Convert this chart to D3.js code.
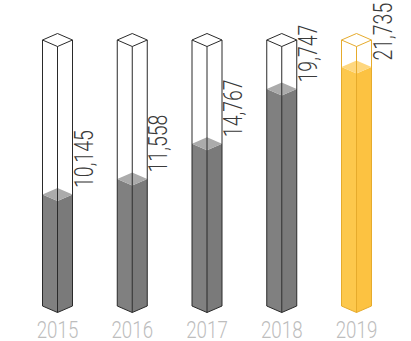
<!DOCTYPE html>
<html>
<head>
<meta charset="utf-8">
<script src="https://cdn.jsdelivr.net/npm/d3@7"></script>
<style>
body { margin: 0; background: #fff; }
svg { display: block; }
.year { font-family: Roboto, sans-serif; font-weight: 300; fill: #bdbdbd; }
.value { font-family: Roboto, sans-serif; font-weight: 300; fill: #3a3a3a; }
</style>
</head>
<body>
<svg width="411" height="341"></svg>
<script>
var years = ["2015", "2016", "2017", "2018", "2019"];
var values = [10145, 11558, 14767, 19747, 21735];
var labels = ["10,145", "11,558", "14,767", "19,747", "21,735"];
var highlight = "2019";

var width = 411, height = 341;
var halfW = 15;   // half width of a tube
var depth = 6.5;  // iso drop of the cap
var squeeze = 0.78;

var svg = d3.select("svg");

var x = d3.scalePoint()
    .domain(years)
    .range([57.5, 356.5]);

var y = d3.scaleLinear()
    .domain([0, 24200])
    .range([306, 40]);

var grayStyle = { left: "#808080", right: "#7a7a7a", top: "#ababab", line: "#2a2a2a" };
var goldStyle = { left: "#fdc84c", right: "#fcc241", top: "#fed77f", line: "#e6ab2c" };

function pts(a) {
    return a.map(function(p) { return p[0] + "," + p[1]; }).join(" ");
}

function drawTube(g, cx, val, st) {
    var yb = y(0), yt = y(y.domain()[1]), yf = y(val);

    // filled part
    g.append("polygon")
        .attr("points", pts([[cx - halfW, yf], [cx, yf + depth], [cx, yb + depth], [cx - halfW, yb]]))
        .attr("fill", st.left);
    g.append("polygon")
        .attr("points", pts([[cx, yf + depth], [cx + halfW, yf], [cx + halfW, yb], [cx, yb + depth]]))
        .attr("fill", st.right);
    g.append("polygon")
        .attr("points", pts([[cx, yf - depth], [cx + halfW, yf], [cx, yf + depth], [cx - halfW, yf]]))
        .attr("fill", st.top);

    // outline of the whole tube
    var line = function(a) {
        g.append("polyline")
            .attr("points", pts(a))
            .attr("fill", "none")
            .attr("stroke", st.line)
            .attr("stroke-width", 1)
            .attr("stroke-linejoin", "round");
    };
    line([[cx, yt - depth], [cx + halfW, yt], [cx, yt + depth], [cx - halfW, yt], [cx, yt - depth]]);
    line([[cx - halfW, yt], [cx - halfW, yb], [cx, yb + depth], [cx + halfW, yb], [cx + halfW, yt]]);
    line([[cx, yt + depth], [cx, yb + depth]]);
}

years.forEach(function(yr, i) {
    var cx = x(yr);
    var st = yr == highlight ? goldStyle : grayStyle;
    var g = svg.append("g");
    drawTube(g, cx, values[i], st);

    var ly = y(values[i]) - depth;
    var lx = cx + halfW + 20;
    g.append("text")
        .attr("class", "value")
        .attr("font-size", 25)
        .attr("transform", "translate(" + lx + "," + ly + ") rotate(-90) scale(" + squeeze + ",1)")
        .text(labels[i]);

    g.append("text")
        .attr("class", "year")
        .attr("font-size", 24)
        .attr("text-anchor", "middle")
        .attr("transform", "translate(" + cx + ",338) scale(" + squeeze + ",1)")
        .text(yr);
});
</script>
</body>
</html>
